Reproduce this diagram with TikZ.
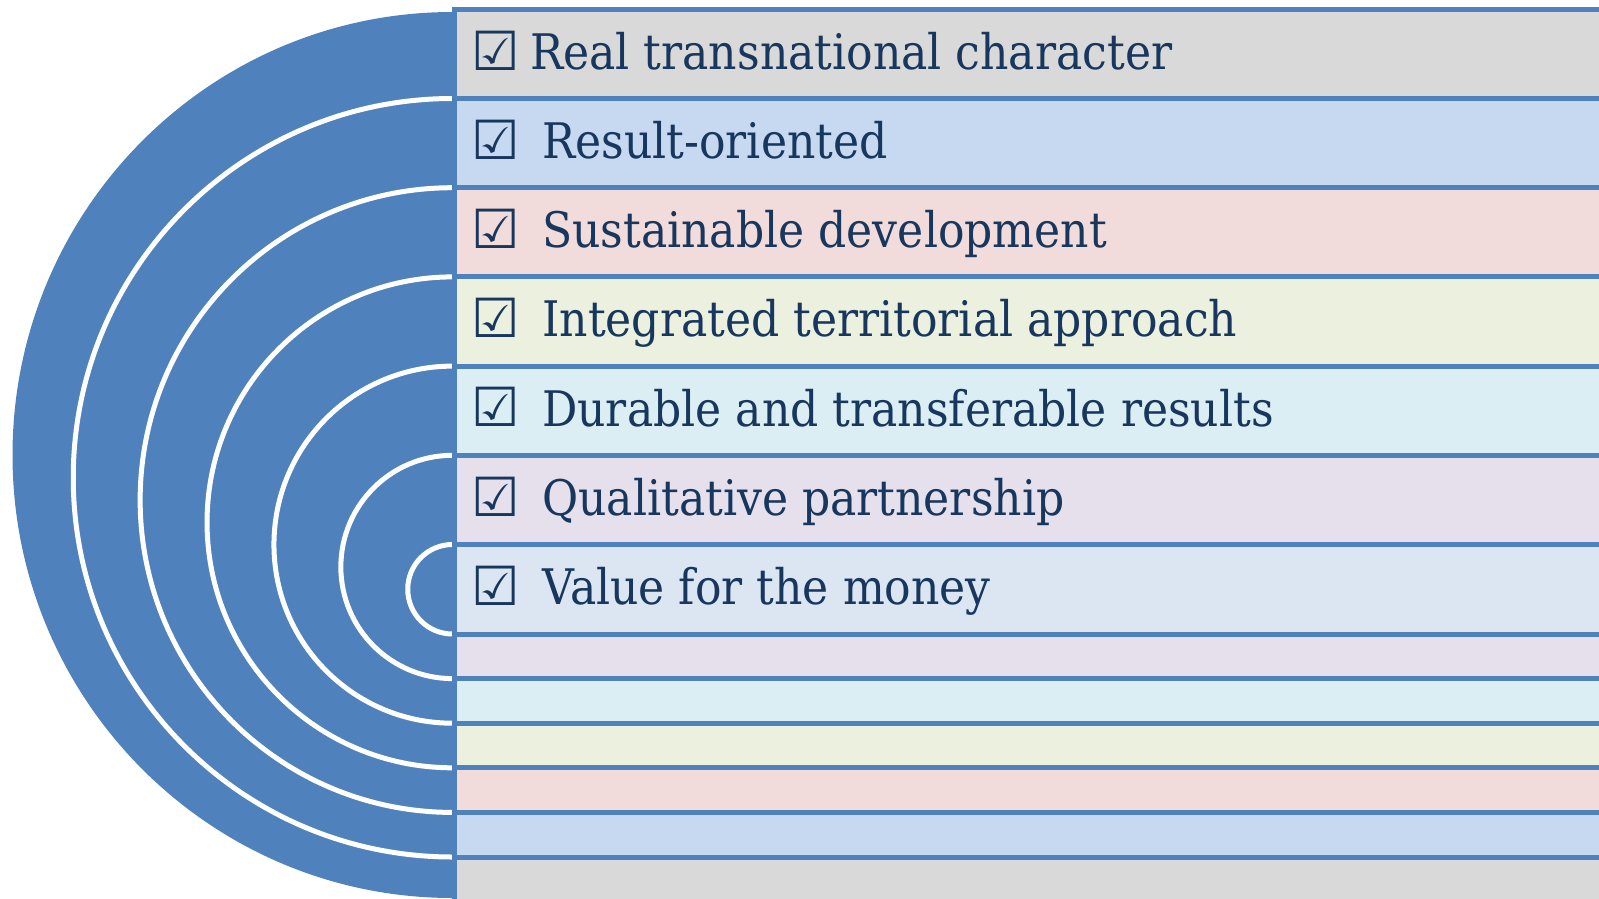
\documentclass[tikz,border=0pt]{standalone}
\usepackage{fontspec}
\setmainfont[FakeStretch=0.9]{DejaVu Serif}
\newfontfamily\symfont{DejaVu Sans Bold}
\definecolor{ringblue}{HTML}{4F81BD}
\definecolor{bordblue}{HTML}{4F81BD}
\definecolor{navy}{HTML}{17375E}
\definecolor{cgray}{HTML}{D9D9D9}
\definecolor{cblue}{HTML}{C6D9F1}
\definecolor{cpink}{HTML}{F2DCDB}
\definecolor{cgreen}{HTML}{EBF1DE}
\definecolor{ccyan}{HTML}{DBEEF4}
\definecolor{clav}{HTML}{E5E0EC}
\definecolor{clight}{HTML}{DCE6F2}
\tikzset{
  ringline/.style={draw=white,line width=5pt},
  band/.style={draw=bordblue,line width=5pt},
  itemtext/.style={anchor=base west,inner sep=0pt,text=navy,font=\fontsize{49}{49}\selectfont},
  chk/.style={anchor=base west,inner sep=0pt,text=navy,font=\symfont\fontsize{54}{54}\selectfont}
}
\begin{document}
\begin{tikzpicture}[x=1pt,y=-1pt]
\useasboundingbox (0,0) rectangle (1599,898);
\clip (0,0) rectangle (1599,898);
% outer blue disc
\fill[ringblue] (452.5,455) ellipse[x radius=440pt,y radius=443pt];
% white separating rings
\foreach \k in {1,...,6} {
  \pgfmathsetmacro\c{(9.3+89.2*\k+901.6-44.6*\k)/2}
  \pgfmathsetmacro\r{(901.6-44.6*\k-9.3-89.2*\k)/2}
  \draw[ringline] (452.5,\c) circle[radius=\r pt];
}
% nested bands
\foreach \k/\fc in {0/cgray,1/cblue,2/cpink,3/cgreen,4/ccyan,5/clav,6/clight} {
  \pgfmathsetmacro\t{9.3+89.2*\k}
  \pgfmathsetmacro\b{901.6-44.6*\k}
  \draw[band,fill=\fc] (454.5,\t) rectangle (1640,\b);
}
% check boxes
\node[chk] (c1) at (471,70) {☑};
\node[chk] (c2) at (471,159.2) {☑};
\node[chk] (c3) at (471,248.4) {☑};
\node[chk] (c4) at (471,337.6) {☑};
\node[chk] (c5) at (471,426.8) {☑};
\node[chk] (c6) at (471,516) {☑};
\node[chk] (c7) at (471,605.2) {☑};
% texts
\node[itemtext] (t1) at (530,69.3) {Real transnational character};
\node[itemtext] (t2) at (542,158.5) {Result-oriented};
\node[itemtext] (t3) at (542,247.7) {Sustainable development};
\node[itemtext] (t4) at (542,336.9) {Integrated territorial approach};
\node[itemtext] (t5) at (542,426.1) {Durable and transferable results};
\node[itemtext] (t6) at (542,515.3) {Qualitative partnership};
\node[itemtext] (t7) at (542,604.5) {Value for the money};
\end{tikzpicture}
\end{document}
